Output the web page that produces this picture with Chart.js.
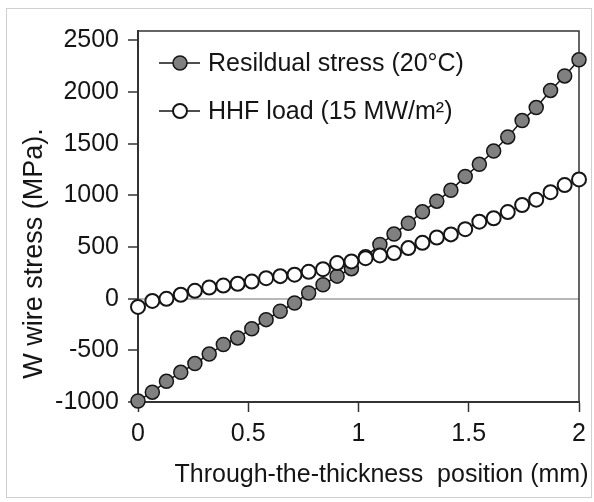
<!DOCTYPE html>
<html>
<head>
<meta charset="utf-8">
<script src="https://cdn.jsdelivr.net/npm/chart.js@4.4.1/dist/chart.umd.min.js"></script>
<style>
  html, body { margin: 0; padding: 0; background: #fff; }
  #wrap { position: relative; width: 594px; height: 502px; }
  #frame {
    position: absolute; left: 6px; top: 8px; width: 586px; height: 490px;
    border: 1px solid #d0d0d0; box-sizing: border-box; pointer-events: none;
  }
</style>
</head>
<body>
<div id="wrap">
  <canvas id="stressChart" width="594" height="502"></canvas>
  <div id="frame"></div>
</div>
<script>
// Positions through the wire thickness (mm)
const positions = [0, 0.065, 0.129, 0.194, 0.258, 0.323, 0.387, 0.452, 0.516, 0.581, 0.645,
  0.710, 0.774, 0.839, 0.903, 0.968, 1.032, 1.097, 1.161, 1.226, 1.290, 1.355, 1.419,
  1.484, 1.548, 1.613, 1.677, 1.742, 1.806, 1.871, 1.935, 2.0];

// Stress in the W wire (MPa)
const residualStress = [-990, -905, -800, -713, -628, -536, -444, -380, -291, -203, -122,
  -42, 55, 135, 218, 290, 405, 524, 625, 730, 840, 943, 1048, 1183, 1300, 1428, 1565,
  1723, 1849, 2015, 2155, 2311];
const hhfStress = [-80, -22, -2, 38, 76, 108, 127, 144, 165, 198, 218, 232, 260, 285,
  344, 360, 392, 418, 441, 489, 540, 592, 622, 672, 745, 778, 838, 906, 958, 1030,
  1099, 1154];

const seriesNames = ['Resildual stress (20°C)', 'HHF load (15 MW/m²)'];
const xTicks = [0, 0.5, 1, 1.5, 2];
const yTicks = [-1000, -500, 0, 500, 1000, 1500, 2000, 2500];

const FONT = 'Arial, "Liberation Sans", sans-serif';
const INK = '#151515';

const toPoints = vals => positions.map((x, i) => ({ x: x, y: vals[i] }));

// box around the plot, legend and axis titles
const decorations = {
  id: 'decorations',
  beforeDatasetsDraw(chart) {
    const { ctx, chartArea: a } = chart;
    ctx.save();
    ctx.strokeStyle = '#333';
    ctx.lineWidth = 1.5;
    ctx.beginPath();
    ctx.moveTo(a.left, a.top);
    ctx.lineTo(a.right, a.top);
    ctx.lineTo(a.right, a.bottom);
    ctx.stroke();
    ctx.restore();
  },
  afterDraw(chart) {
    const { ctx, chartArea: a } = chart;
    ctx.save();
    ctx.fillStyle = INK;

    // legend
    ctx.font = '25px ' + FONT;
    ctx.textBaseline = 'middle';
    ctx.textAlign = 'left';
    chart.data.datasets.forEach((ds, i) => {
      const y = a.top + 32 + i * 48;
      const x0 = a.left + 21;
      ctx.strokeStyle = INK;
      ctx.lineWidth = 1.5;
      ctx.beginPath();
      ctx.moveTo(x0, y);
      ctx.lineTo(x0 + 41, y);
      ctx.stroke();
      ctx.beginPath();
      ctx.arc(x0 + 21, y, ds.pointRadius, 0, Math.PI * 2);
      ctx.fillStyle = ds.pointBackgroundColor;
      ctx.fill();
      ctx.lineWidth = ds.pointBorderWidth;
      ctx.stroke();
      ctx.fillStyle = INK;
      ctx.fillText(ds.label, x0 + 49, y + 1);
    });

    // axis titles
    ctx.textAlign = 'center';
    ctx.font = '25px ' + FONT;
    ctx.fillText('Through-the-thickness  position (mm)', (a.left + a.right) / 2 + 23, a.bottom + 73);
    ctx.translate(35, (a.top + a.bottom) / 2 + 37);
    ctx.rotate(-Math.PI / 2);
    ctx.font = '27px ' + FONT;
    ctx.fillText('W wire stress (MPa).', 0, 0);
    ctx.restore();
  }
};

new Chart(document.getElementById('stressChart'), {
  type: 'line',
  data: {
    datasets: [
      {
        label: seriesNames[0],
        data: toPoints(residualStress),
        borderColor: INK,
        borderWidth: 1.5,
        pointRadius: 7,
        pointBackgroundColor: '#808080',
        pointBorderColor: INK,
        pointBorderWidth: 1.5,
        clip: false,
        order: 1
      },
      {
        label: seriesNames[1],
        data: toPoints(hhfStress),
        borderColor: INK,
        borderWidth: 1.5,
        pointRadius: 7,
        pointBackgroundColor: '#ffffff',
        pointBorderColor: INK,
        pointBorderWidth: 2,
        clip: false,
        order: 0
      }
    ]
  },
  options: {
    responsive: false,
    animation: false,
    layout: { padding: { left: 0, top: 31, right: 15, bottom: 0 } },
    plugins: {
      legend: { display: false },
      tooltip: { enabled: false }
    },
    scales: {
      x: {
        type: 'linear',
        min: 0,
        max: 2,
        afterBuildTicks: s => { s.ticks = xTicks.map(v => ({ value: v })); },
        afterFit: s => { s.height = 100; },
        grid: {
          color: 'rgba(0,0,0,0)',
          tickColor: '#333',
          tickLength: 10,
          tickWidth: 1.5
        },
        border: { color: '#333', width: 2 },
        ticks: {
          color: INK, padding: 7, maxRotation: 0,
          font: { family: FONT, size: 25 },
          callback: v => String(v)
        }
      },
      y: {
        type: 'linear',
        min: -1000,
        max: 2590,
        afterBuildTicks: s => { s.ticks = yTicks.map(v => ({ value: v })); },
        afterFit: s => { s.width = 138; },
        grid: {
          color: c => (c.tick && c.tick.value === 0 ? '#b8b8b8' : 'rgba(0,0,0,0)'),
          lineWidth: 2,
          tickColor: '#333',
          tickLength: 10,
          tickWidth: 1.5
        },
        border: { color: '#333', width: 2 },
        ticks: {
          color: INK, padding: 9,
          font: { family: FONT, size: 25 },
          callback: v => String(v)
        }
      }
    }
  },
  plugins: [decorations]
});
</script>
</body>
</html>
